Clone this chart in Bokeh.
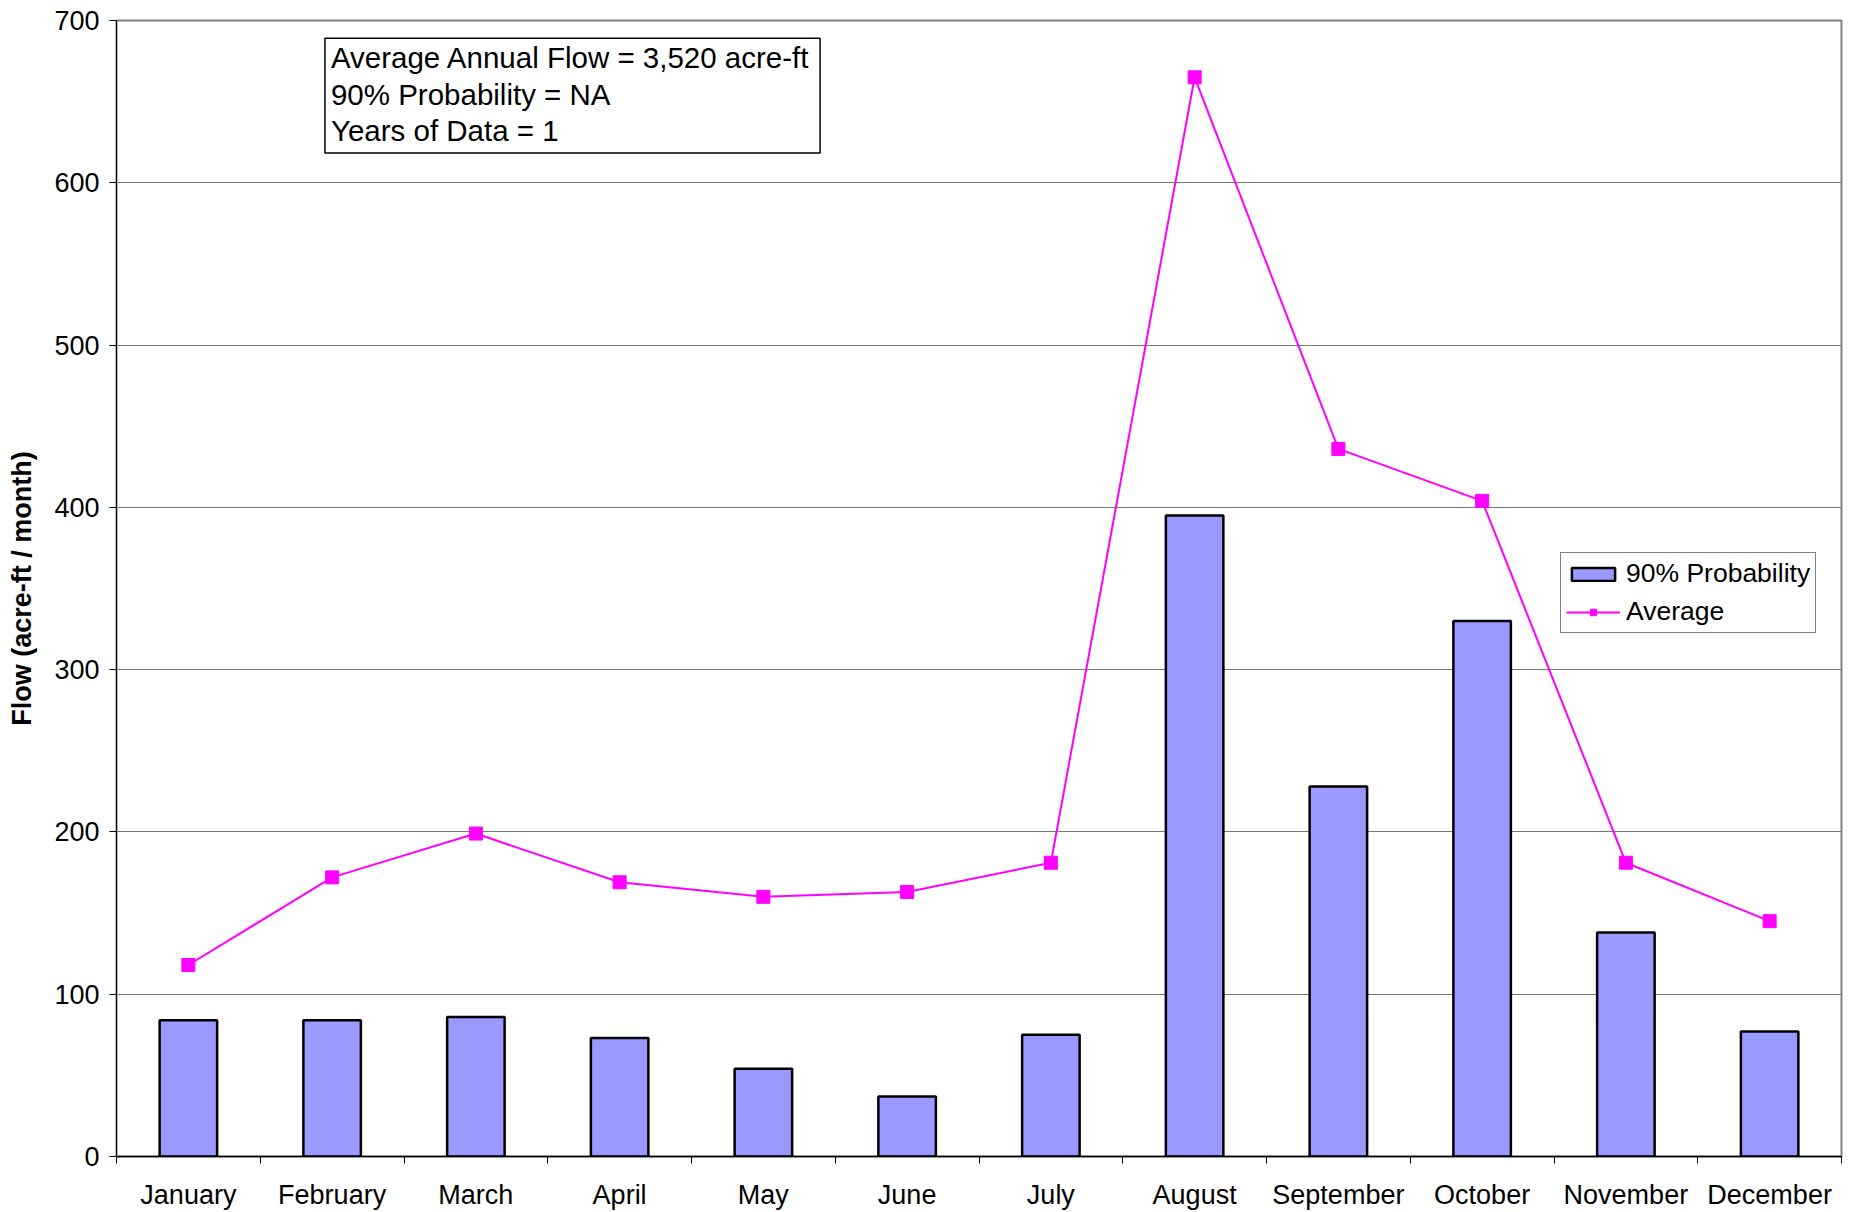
import numpy as np
from bokeh.plotting import figure
from bokeh.models import Range1d, FixedTicker, Label, Legend, LegendItem, ColumnDataSource
from bokeh.embed import file_html
from bokeh.resources import INLINE

months = ["January", "February", "March", "April", "May", "June", "July",
          "August", "September", "October", "November", "December"]
prob90 = [84, 84, 86, 73, 54, 37, 75, 395, 228, 330, 138, 77]
average = [118, 172, 199, 169, 160, 163, 181, 665, 436, 404, 181, 145]
y_ticks = [0, 100, 200, 300, 400, 500, 600, 700]
note_lines = ["Average Annual Flow = 3,520 acre-ft", "90% Probability = NA", "Years of Data = 1"]

FONT = "Liberation Sans"
n = len(months)
xc = list(np.arange(n) + 0.5)
src = ColumnDataSource(dict(x=xc, p90=prob90, avg=average))

p = figure(width=1853, height=1212, output_backend="svg", toolbar_location=None,
           x_range=Range1d(0, n), y_range=Range1d(0, y_ticks[-1]),
           min_border_left=116, min_border_right=12, min_border_top=20, min_border_bottom=55)
p.background_fill_color = "white"
p.border_fill_color = "white"
p.outline_line_color = "#808080"
p.outline_line_width = 2

bars = p.vbar(x="x", top="p90", width=0.4, source=src, fill_color="#9999FF",
              line_color="black", line_width=2.5)
line = p.line(x="x", y="avg", source=src, line_color="#FF00FF", line_width=2)
marks = p.scatter(x="x", y="avg", source=src, marker="square", size=13,
                  fill_color="#FF00FF", line_color="#FF00FF")

# axes
p.xaxis.ticker = FixedTicker(ticks=xc, minor_ticks=list(range(n + 1)))
p.xaxis.major_label_overrides = {float(v): m for v, m in zip(xc, months)}
p.xaxis.major_tick_line_color = None
p.xaxis.major_tick_out = 7
p.xaxis.major_tick_in = 0
p.xaxis.minor_tick_line_color = "black"
p.xaxis.minor_tick_out = 7
p.xaxis.minor_tick_in = 0
p.xaxis.major_label_standoff = 16
p.xaxis.axis_line_color = "black"
p.xaxis.axis_line_width = 1.5

p.yaxis.ticker = FixedTicker(ticks=y_ticks)
p.yaxis.major_tick_out = 7
p.yaxis.major_tick_in = 0
p.yaxis.minor_tick_line_color = None
p.yaxis.major_label_standoff = 10
p.yaxis.axis_label = "Flow (acre-ft / month)"
p.yaxis.axis_label_text_font = FONT
p.yaxis.axis_label_text_font_style = "bold"
p.yaxis.axis_label_text_font_size = "27px"
p.yaxis.axis_label_text_color = "black"
p.yaxis.axis_label_standoff = 14
p.yaxis.axis_line_color = "black"

for ax in (p.xaxis, p.yaxis):
    ax.major_label_text_font = FONT
    ax.major_label_text_font_size = "27px"
    ax.major_label_text_color = "black"

p.xgrid.visible = False
p.ygrid.ticker = FixedTicker(ticks=y_ticks)
p.ygrid.grid_line_color = "#777777"
p.ygrid.grid_line_width = 1

# annotation box
note = Label(x=1.45, y=689, text="\n".join(note_lines), text_font=FONT,
             text_font_size="29.5px", text_color="black", text_line_height=1.1,
             anchor="top_left", text_align="left", text_baseline="top",
             border_line_color="black", border_line_width=1.5,
             background_fill_color="white",
             padding=dict(left=6, right=10, top=3, bottom=6))
p.add_layout(note)

legend = Legend(items=[LegendItem(label="90% Probability", renderers=[bars]),
                       LegendItem(label="Average", renderers=[line, marks])],
                location=(1444, 523))
legend.label_text_font = FONT
legend.label_text_font_size = "26.5px"
legend.label_text_color = "black"
legend.border_line_color = "black"
legend.border_line_width = 1
legend.background_fill_color = "white"
legend.background_fill_alpha = 1
legend.glyph_width = 54
legend.glyph_height = 16
legend.label_standoff = 6
legend.padding = 5
legend.spacing = 7
legend.margin = 0
p.add_layout(legend)

open("out.html", "w").write(file_html(p, INLINE))
